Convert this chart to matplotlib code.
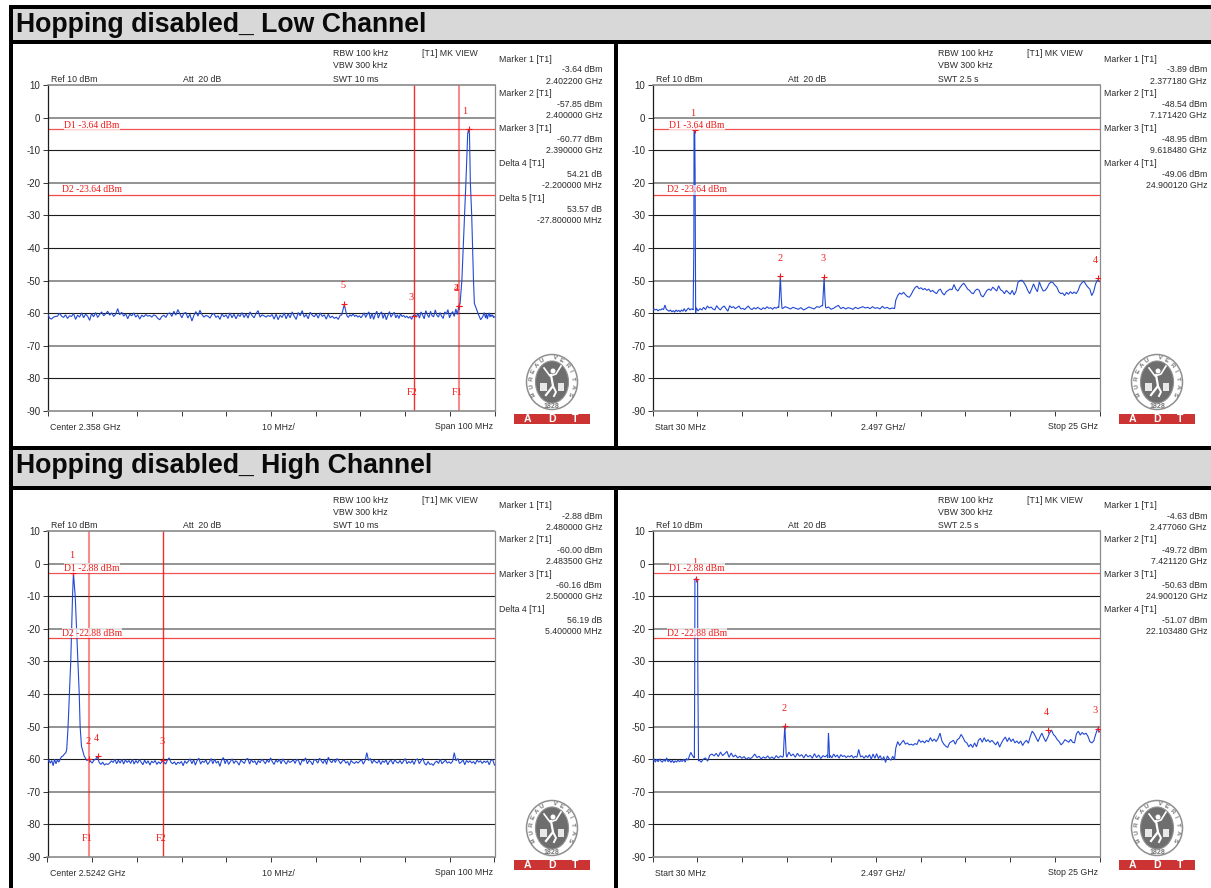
import numpy as np
import matplotlib
matplotlib.use("Agg")
import matplotlib.pyplot as plt
from matplotlib.patches import Rectangle, Ellipse

W, H = 1211, 888
SANS = ["Liberation Sans", "DejaVu Sans"]
SERIF = ["Liberation Serif", "DejaVu Serif"]
BLUE = "#2349d4"
RED = "#f01a1a"

# ---------- Data: Low channel, band edge (GHz, dBm) ----------
LOW_A = [-60.0,-61.5,-61.8,-61.2,-61.0,-60.9,-60.0,-60.9,-61.3,-60.5,-61.6,-60.8,-61.0,-60.1,-61.9,-60.6,-61.2,-59.9,-61.4,-60.3,
 -60.9,-62.2,-60.1,-61.1,-59.8,-61.3,-60.4,-59.6,-60.8,-60.2,-59.4,-60.6,-59.9,-61.0,-60.3,-58.6,-60.5,-59.7,-60.9,-60.2,
 -61.7,-60.3,-60.8,-59.9,-61.2,-60.5,-61.8,-60.6,-61.1,-60.4,-60.9,-60.7,-61.2,-60.5,-60.8,-61.6,-62.0,-61.0,-60.6,-61.3,
 -60.2,-59.9,-61.0,-59.4,-60.6,-58.9,-60.2,-61.4,-60.0,-59.8,-61.5,-60.3,-62.4,-60.7,-59.5,-60.9,-59.1,-60.4,-61.2,-60.7,
 -60.9,-61.5,-60.4,-60.1,-61.3,-60.8,-61.9,-60.2,-61.1,-60.5,-61.6,-59.9,-61.4,-60.3,-61.7,-60.4,-61.0,-59.8,-61.3,-60.2,
 -61.5,-59.6,-60.7,-61.4,-60.1,-59.2,-61.2,-60.5,-60.8,-61.2,-60.7,-61.0,-60.4,-61.8,-60.3,-62.0,-60.6,-61.3,-59.9,-61.7,
 -60.2,-61.4,-59.6,-60.9,-61.9,-59.8,-60.8,-59.2,-61.2,-60.4,-61.7,-59.7,-60.6,-61.1,-60.2,-61.5,-59.9,-61.0,-60.5,-61.8,
 -60.3,-61.4,-60.9,-61.6,-61.2,-61.9,-60.6]
LOW_SPIKE_F = [2.3738, 2.3741, 2.3744, 2.3747, 2.3750]
LOW_SPIKE_V = [-60.6, -59.0, -57.3, -59.2, -60.8]
LOW_B = [-61.3,-60.5,-60.9,-60.2,-61.0,-60.6,-61.2,-60.8,-61.4,-60.7,-59.9,-61.3,-60.3,-59.6,-61.7,-60.0,-61.9,-60.4,-59.4,-61.5,
 -60.2,-59.6,-61.6,-60.1,-62.0,-60.7,-59.5,-61.2,-60.4,-59.7,-61.4,-60.5,-61.6,-60.2,-61.0,-60.7,-61.3,-60.9,-61.5,-61.0,
 -61.9,-60.8,-60.4,-61.2,-60.0,-61.5,-59.6,-60.6,-61.7,-59.2,-60.5,-61.3,-59.4,-60.8,-61.1,-59.0,-60.6,-61.2,-59.8,-60.9,
 -61.6,-59.6,-60.3,-58.9,-61.4,-60.2,-59.5,-61.0,-58.7,-60.4]
LOW_PEAK_F = [2.4000,2.4003,2.4007,2.4010,2.4016,2.4020,2.4022,2.4024,2.4026,2.4029,2.4031,2.4033,2.4035,2.4043,2.4049,2.4054,2.4057]
LOW_PEAK_V = [-57.85,-57,-50,-40,-20,-5,-3.64,-5,-20,-30,-40,-50,-57,-60,-62,-61.0,-59.8]
LOW_TAIL = [-61.5,-60.2,-61.8,-60.6,-59.9,-61.2,-60.4,-61.0,-60.5,-61.4,-61.1]

# ---------- Data: Low channel, 30 MHz - 25 GHz ----------
WL_A = [-59.2,-58.7,-59.0,-58.8,-59.3,-58.9,-59.0,-58.6,-58.9,-57.5,-58.8,-59.1,-59.4,-59.0,-59.6,-59.2,-59.7,-59.0,-59.5,-59.1,
 -59.6,-59.0,-59.4,-58.6,-59.5,-58.9,-58.4,-59.0,-58.7,-58.8]
WL_SPIKE1_F = [2.30, 2.34, 2.35, 2.377, 2.39, 2.41, 2.44]
WL_SPIKE1_V = [-59.0, -40, -4.5, -3.89, -4.5, -17, -60]
WL_B = [-58.3,-59.3,-58.6,-59.0,-58.2,-58.9,-57.8,-58.4,-58.1,-58.7,-59.0,-57.7,-58.5,-59.0,-58.2,-57.8,-58.6,-59.4,-57.7,-58.3,
 -58.0,-58.6,-58.2,-57.8,-58.7,-58.5,-58.9,-58.3,-57.8,-58.6,-58.9,-58.3,-58.7,-58.2,-58.6,-58.9,-58.3,-58.7,-58.0,-58.5,
 -58.3,-58.8,-58.2,-58.5,-58.0]
WL_SPIKE2_F = [7.08, 7.12, 7.171, 7.22, 7.26]
WL_SPIKE2_V = [-58.3, -55, -48.54, -55, -58.4]
WL_C = [-58.6,-58.0,-58.3,-58.7,-58.2,-58.5,-58.8,-58.3,-59.0,-58.6,-58.1,-58.4,-58.7,-58.0,-58.2,-57.6]
WL_SPIKE3_F = [9.53, 9.57, 9.618, 9.66, 9.70]
WL_SPIKE3_V = [-57.8, -54, -48.95, -55, -58.2]
WL_D = [-58.4,-58.1,-58.8,-58.5,-58.0,-57.6,-58.6,-58.2,-58.7,-58.3,-58.5,-58.8,-58.2,-58.6,-58.3,-58.0,-58.4,-58.2,-58.6,-58.0,
 -58.5,-58.3,-58.7,-57.9,-58.5,-58.2,-58.7,-58.4,-58.6]
WL_E = [-56.0,-54.6,-53.8,-54.2,-53.6,-54.3,-54.9,-55.1,-54.2,-53.0,-52.1,-51.7,-52.5,-52.2,-52.8,-52.4,-53.0,-52.6,-53.4,-53.0,
 -53.6,-54.0,-53.0,-52.6,-53.8,-54.4,-53.4,-53.0,-52.6,-52.8,-51.2,-52.6,-53.2,-52.2,-51.4,-50.8,-51.6,-52.6,-53.0,-53.8,
 -54.0,-53.0,-52.6,-53.0,-54.6,-55.0,-54.0,-53.0,-52.6,-53.0,-52.0,-52.6,-53.2,-51.6,-52.8,-53.2,-54.0,-53.0,-53.6,-54.2,
 -53.0,-54.4,-53.2,-50.5,-50.0,-49.9,-50.6,-51.6,-53.0,-54.0,-52.6,-51.0,-52.4,-53.4,-50.4,-52.0,-53.2,-53.0,-52.2,-51.0,
 -50.4,-50.6,-51.4,-52.0,-53.4,-54.0,-53.8,-54.6,-53.6,-54.2,-53.4,-54.0,-53.5,-54.0,-53.0,-51.4,-50.6,-50.2,-51.2,-52.0,
 -52.6,-54.6,-53.4,-51.0,-49.8,-50.3]

# ---------- Data: High channel, band edge ----------
HIGH_L = [-60.8,-60.2,-61.2,-60.4,-62.0,-60.0,-61.4,-60.2,-60.9,-60.0,-59.2,-59.0,-58.4,-58.0]
HIGH_PEAK_F = [2.4785,2.4788,2.4791,2.4794,2.4796,2.4798,2.4800,2.4804,2.4807,2.4810,2.4813,2.4815,2.4818,2.4824,2.4830,2.4835]
HIGH_PEAK_V = [-57,-50,-40,-30,-20,-10,-2.88,-10,-20,-30,-40,-50,-56,-59,-60.4,-60.0]
HIGH_R = [-60.6,-61.2,-60.3,-60.0,-59.1,-61.0,-61.6,-60.9,-61.8,-61.4,-61.6,-61.2,-60.5,-61.0,-60.0,-61.4,-60.3,-61.2,-60.0,-61.5,
 -60.2,-61.0,-60.4,-61.3,-60.0,-61.5,-60.4,-61.2,-60.1,-60.9,-61.7,-60.3,-61.3,-60.5,-61.8,-60.6,-61.1,-60.4,-61.6,-60.8,
 -61.4,-60.6,-60.9,-61.5,-60.3,-59.6,-60.9,-61.4,-60.8,-61.7,-60.9,-61.3,-60.7,-62.0,-60.5,-61.3,-60.6,-59.9,-61.4,-60.2,
 -61.8,-60.4,-59.7,-61.5,-60.6,-61.0,-60.2,-61.6,-60.9,-59.8,-61.4,-60.0,-61.2,-60.6,-62.2,-60.3,-59.5,-61.4,-60.0,-61.6,
 -60.7,-59.9,-61.3,-60.5,-60.9,-61.8,-60.3,-60.8,-61.3,-60.0,-59.8,-61.5,-60.1,-61.0,-60.5,-61.7,-60.4,-61.1,-60.0,-60.6,
 -61.4,-60.2,-61.0,-59.6,-60.8,-61.6,-60.3,-60.9,-60.0,-61.4,-59.9,-60.8,-61.5,-60.4,-61.0,-60.7,-60.2,-61.3,-60.0,-60.5,
 -61.8,-60.3,-60.6,-59.6,-61.4,-60.4,-60.8,-61.7,-60.0,-60.4,-61.2,-59.7,-60.5,-61.3,-60.0,-61.6,-59.4,-60.5,-61.1,-60.0,
 -61.0,-59.8,-60.5,-61.4,-60.6,-60.2,-61.2,-60.7,-61.9,-60.4,-61.0,-61.3,-60.7,-61.2,-60.6,-60.2,-61.5,-60.5,-58.0,-60.4,
 -59.8,-61.3,-60.3,-60.8,-61.2,-60.3,-61.6,-60.5,-61.0,-60.2,-61.7,-60.6,-60.4,-61.5,-60.1,-60.9,-61.2,-60.4,-61.4,-60.6,
 -59.8,-61.4,-60.7,-61.2,-60.4,-61.6,-60.2,-59.9,-61.4,-60.5,-59.7,-61.3,-61.8,-60.7,-61.6,-61.4,-61.9,-61.0,-60.6,-61.3,
 -60.0,-61.4,-60.8,-60.3,-61.2,-60.8,-61.3,-60.7,-58.0,-60.5,-59.8,-61.3,-60.9,-60.2,-61.7,-60.4,-61.0,-60.5,-61.2,-60.7,
 -61.5,-60.3,-60.9,-60.5,-61.3,-60.6,-61.0,-60.5,-61.7,-60.3,-60.2,-61.8]

# ---------- Data: High channel, 30 MHz - 25 GHz ----------
WH_A = [-60.6,-59.8,-60.9,-60.0,-60.8,-59.9,-60.6,-60.9,-60.0,-60.7,-59.6,-60.8,-60.2,-61.0,-60.3,-61.1,-60.5,-60.9,-60.2,-60.8,
 -60.4,-60.7,-60.0,-60.9,-59.8,-60.3,-59.0,-57.9,-58.8,-59.4]
WH_SPIKE1_F = [2.37, 2.39, 2.40, 2.477, 2.55, 2.56, 2.60]
WH_SPIKE1_V = [-59.6, -30, -4.8, -4.63, -5.0, -32, -60.6]
WH_B = [-60.2,-60.9,-60.0,-59.6,-60.6,-58.8,-58.4,-59.0,-58.2,-59.2,-57.8,-58.9,-58.3,-57.6,-59.4,-58.1,-59.3,-58.7,-59.6,-59.1,
 -59.7,-59.2,-60.0,-59.5,-59.8,-59.3,-58.4,-59.5,-59.1,-59.9,-59.3,-59.7,-59.0,-59.8,-59.3,-59.9,-58.9,-59.6,-59.0,-59.4]
WH_SPIKE2_F = [7.34, 7.38, 7.421, 7.46, 7.50]
WH_SPIKE2_V = [-59.0, -54, -49.72, -54, -58.6]
WH_C = [-59.4,-57.8,-59.0,-58.4,-59.4,-58.2,-59.1,-58.6,-59.6,-58.5,-59.3,-58.8,-59.7,-58.3,-59.5,-58.7,-59.8,-58.9,-59.3,-58.7]
WH_SPIKE3_F = [9.82, 9.84, 9.86, 9.89, 9.92]
WH_SPIKE3_V = [-59.6, -55, -52.0, -55, -59.5]
WH_D = [-58.8,-59.6,-58.4,-59.3,-58.7,-59.7,-58.6,-59.2,-58.9,-59.5,-59.0,-59.3,-58.8,-59.6,-59.1,-59.4,-57.0,-59.3,-59.0,-59.7,
 -58.9,-59.5,-58.6,-60.0,-58.4,-59.7,-58.3,-59.8,-58.9,-60.3,-59.2,-61.0,-59.0,-59.9,-60.3,-59.1,-60.2]
WH_E = [-56.6,-54.6,-55.8,-54.9,-54.2,-55.4,-55.0,-55.6,-55.4,-55.7,-55.2,-55.5,-54.0,-54.8,-54.4,-55.0,-54.2,-54.7,-53.4,-54.5,
 -53.8,-54.6,-53.6,-52.0,-54.4,-55.4,-56.0,-56.4,-55.0,-54.6,-54.2,-55.4,-54.0,-53.6,-52.4,-53.4,-54.6,-55.0,-56.2,-55.4,
 -56.4,-55.0,-56.2,-54.2,-53.6,-54.8,-53.4,-54.6,-54.0,-54.8,-54.2,-54.9,-55.6,-54.6,-56.3,-55.0,-54.0,-53.2,-54.6,-53.4,
 -54.6,-53.8,-55.0,-54.4,-55.2,-54.4,-55.8,-54.8,-54.2,-55.1,-53.0,-51.4,-52.2,-53.4,-54.6,-53.2,-52.0,-53.4,-54.6,-53.4,
 -52.0,-51.07,-52.4,-53.0,-54.0,-54.6,-55.6,-55.0,-54.0,-54.4,-54.8,-53.9,-54.8,-55.0,-52.2,-51.4,-52.6,-51.8,-52.4,-52.0,
 -53.0,-54.6,-55.0,-54.4,-52.4,-50.63,-51.6]

RBW = ["RBW 100 kHz", "VBW 300 kHz"]
PANELS = [
    dict(xlim=(2.308, 2.408), swt="SWT 10 ms", bl="Center 2.358 GHz", bc="10 MHz/", br="Span 100 MHz",
         d1=-3.64, d2=-23.64, d1t="D1 -3.64 dBm", d2t="D2 -23.64 dBm",
         vlines=[(2.39, "F2"), (2.40, "F1")],
         mf=[2.4022, 2.4000, 2.3900, 2.4000, 2.3744], mv=[-3.64, -57.85, -60.77, -57.85, -57.21],
         ml=["1", "2", "3", "4", "5"], mxy=[(465, 111), (456, 288), (411, 297), (456, 288), (343, 285)],
         rows=[("Marker 1 [T1]", "-3.64 dBm", "2.402200 GHz"), ("Marker 2 [T1]", "-57.85 dBm", "2.400000 GHz"),
               ("Marker 3 [T1]", "-60.77 dBm", "2.390000 GHz"), ("Delta 4 [T1]", "54.21 dB", "-2.200000 MHz"),
               ("Delta 5 [T1]", "53.57 dB", "-27.800000 MHz")]),
    dict(xlim=(0.03, 25.0), swt="SWT 2.5 s", bl="Start 30 MHz", bc="2.497 GHz/", br="Stop 25 GHz",
         d1=-3.64, d2=-23.64, d1t="D1 -3.64 dBm", d2t="D2 -23.64 dBm", vlines=[],
         mf=[2.37718, 7.17142, 9.61848, 24.90012], mv=[-3.89, -48.54, -48.95, -49.06],
         ml=["1", "2", "3", "4"], mxy=[(693, 113), (780, 258), (823, 258), (1095, 260)],
         rows=[("Marker 1 [T1]", "-3.89 dBm", "2.377180 GHz"), ("Marker 2 [T1]", "-48.54 dBm", "7.171420 GHz"),
               ("Marker 3 [T1]", "-48.95 dBm", "9.618480 GHz"), ("Marker 4 [T1]", "-49.06 dBm", "24.900120 GHz")]),
    dict(xlim=(2.4742, 2.5742), swt="SWT 10 ms", bl="Center 2.5242 GHz", bc="10 MHz/", br="Span 100 MHz",
         d1=-2.88, d2=-22.88, d1t="D1 -2.88 dBm", d2t="D2 -22.88 dBm",
         vlines=[(2.4835, "F1"), (2.50, "F2")],
         mf=[2.4800, 2.4835, 2.5000, 2.4854], mv=[-2.88, -60.00, -60.16, -59.07],
         ml=["1", "2", "3", "4"], mxy=[(72, 555), (88, 741), (162, 741), (96, 738)],
         rows=[("Marker 1 [T1]", "-2.88 dBm", "2.480000 GHz"), ("Marker 2 [T1]", "-60.00 dBm", "2.483500 GHz"),
               ("Marker 3 [T1]", "-60.16 dBm", "2.500000 GHz"), ("Delta 4 [T1]", "56.19 dB", "5.400000 MHz")]),
    dict(xlim=(0.03, 25.0), swt="SWT 2.5 s", bl="Start 30 MHz", bc="2.497 GHz/", br="Stop 25 GHz",
         d1=-2.88, d2=-22.88, d1t="D1 -2.88 dBm", d2t="D2 -22.88 dBm", vlines=[],
         mf=[2.47706, 7.42112, 24.90012, 22.10348], mv=[-4.63, -49.72, -50.63, -51.07],
         ml=["1", "2", "3", "4"], mxy=[(695, 562), (784, 708), (1095, 710), (1046, 712)],
         rows=[("Marker 1 [T1]", "-4.63 dBm", "2.477060 GHz"), ("Marker 2 [T1]", "-49.72 dBm", "7.421120 GHz"),
               ("Marker 3 [T1]", "-50.63 dBm", "24.900120 GHz"), ("Marker 4 [T1]", "-51.07 dBm", "22.103480 GHz")]),
]
HEADERS = ["Hopping disabled_ Low Channel", "Hopping disabled_ High Channel"]
Y_TICKS = [10, 0, -10, -20, -30, -40, -50, -60, -70, -80, -90]
BLACK_GRID = [-10, -30, -40, -60, -80]
GREY_GRID = [0, -20, -50, -70]


def seg(a, b, vals):
    return np.linspace(a, b, len(vals)), np.array(vals, dtype=float)


def join(*parts):
    xs, ys = [], []
    for x, y in parts:
        xs.append(np.asarray(x, dtype=float))
        ys.append(np.asarray(y, dtype=float))
    return np.concatenate(xs), np.concatenate(ys)


TRACES = [
    join(seg(2.308, 2.3735, LOW_A), (LOW_SPIKE_F, LOW_SPIKE_V), seg(2.3753, 2.3997, LOW_B),
         (LOW_PEAK_F, LOW_PEAK_V), seg(2.4060, 2.408, LOW_TAIL)),
    join(seg(0.03, 2.27, WL_A), (WL_SPIKE1_F, WL_SPIKE1_V), seg(2.47, 7.05, WL_B), (WL_SPIKE2_F, WL_SPIKE2_V),
         seg(7.29, 9.50, WL_C), (WL_SPIKE3_F, WL_SPIKE3_V), seg(9.73, 13.55, WL_D), seg(13.62, 25.0, WL_E)),
    join(seg(2.4742, 2.4783, HIGH_L), (HIGH_PEAK_F, HIGH_PEAK_V), seg(2.4838, 2.5742, HIGH_R)),
    join(seg(0.03, 2.33, WH_A), (WH_SPIKE1_F, WH_SPIKE1_V), seg(2.63, 7.30, WH_B), (WH_SPIKE2_F, WH_SPIKE2_V),
         seg(7.53, 9.79, WH_C), (WH_SPIKE3_F, WH_SPIKE3_V), seg(9.95, 13.55, WH_D), seg(13.62, 25.0, WH_E)),
]

fig = plt.figure(figsize=(W / 100, H / 100), dpi=100, facecolor="white")


def pixel_axes(z):
    a = fig.add_axes([0, 0, 1, 1], zorder=z)
    a.set_xlim(0, W)
    a.set_ylim(H, 0)
    a.axis("off")
    a.patch.set_alpha(0)
    return a


bg = pixel_axes(0)
fg = pixel_axes(5)

# Frame
for x, y, w, h, c in [(9, 5, W - 9, 4, "black"), (9, 5, 4, H - 5, "black"),
                      (13, 9, W - 13, 31, "#d8d8d8"), (13, 40, W - 13, 4, "black"),
                      (614, 44, 4, 402, "black"), (13, 446, W - 13, 4, "black"),
                      (13, 450, W - 13, 36, "#d8d8d8"), (13, 486, W - 13, 4, "black"),
                      (614, 490, 4, H - 490, "black")]:
    bg.add_patch(Rectangle((x, y), w, h, fc=c, ec="none"))
for txt, y in zip(HEADERS, [25, 466]):
    bg.text(16, y, txt, family=SANS, weight="bold", fontsize=19.2, color="#0a0a0a", va="center", ha="left")


def draw_logo(cx, cy):
    c = "#6e6e6e"
    bg.add_patch(Ellipse((cx, cy), 51, 55, fc="white", ec="#8f8f8f", lw=1.1))
    bg.add_patch(Ellipse((cx, cy), 33, 42, fc=c, ec="#8f8f8f", lw=0.8))
    letters = "BUREAU VERITAS"
    angs = np.linspace(-118, 118, len(letters))
    for ch, a in zip(letters, angs):
        r = np.deg2rad(a)
        bg.text(cx + 21 * np.sin(r), cy - 24 * np.cos(r), ch, fontsize=4.6, family=SANS,
                weight="bold", color="#777777", ha="center", va="center", rotation=-a)
    bg.text(cx, cy + 24, "1828", fontsize=5.0, family=SANS, weight="bold", color="#777777", ha="center", va="center")
    bg.plot([cx - 8, cx - 2, cx + 4, cx + 9], [cy - 14, cy - 6, cy - 8, cy - 16], color="white", lw=1.2)
    bg.plot([cx - 1, cx + 1, cx - 6], [cy - 7, cy + 4, cy + 13], color="white", lw=1.6)
    bg.plot([cx + 1, cx + 4, cx + 2], [cy + 4, cy + 10, cy + 14], color="white", lw=1.4)
    bg.add_patch(Ellipse((cx + 1, cy - 11), 5, 5, fc="white", ec="none"))
    bg.add_patch(Rectangle((cx - 12, cy + 1), 7, 8, fc="white", ec="none", alpha=0.85))
    bg.add_patch(Rectangle((cx + 6, cy + 1), 6, 8, fc="white", ec="none", alpha=0.85))
    bg.add_patch(Rectangle((cx - 38, cy + 32), 76, 10, fc="#cc3434", ec="none"))
    for ch, dx in zip("ADT", (-24, 0, 23)):
        bg.text(cx + dx, cy + 37, ch, color="white", weight="bold", fontsize=7.6, family=SANS, ha="center", va="center")


LAYOUT = [(0, 0), (605, 0), (0, 446), (605, 446)]
TXT = "#2b2b2b"
FS = 6.35
SFS = 7.3
for p, (dx, dy), (tx, ty) in zip(PANELS, LAYOUT, TRACES):
    x0, x1 = 47.5 + dx, 494.5 + dx
    y0, y1 = 85 + dy, 411 + dy
    ax = fig.add_axes([x0 / W, 1 - y1 / H, (x1 - x0) / W, (y1 - y0) / H], zorder=2)
    ax.patch.set_alpha(0)
    ax.set_xlim(*p["xlim"])
    ax.set_ylim(-90, 10)
    for lv in GREY_GRID:
        ax.axhline(lv, color="#8a8a8a", lw=1.3, zorder=1)
    for lv in BLACK_GRID:
        ax.axhline(lv, color="#1c1c1c", lw=0.8, zorder=1)
    ax.axhline(p["d1"], color=RED, lw=0.9, alpha=0.75, zorder=2)
    ax.axhline(p["d2"], color=RED, lw=0.9, alpha=0.8, zorder=2)
    for f, lab in p["vlines"]:
        ax.axvline(f, color=RED, lw=1.5 if lab == "F1" else 1.0, alpha=0.5 if lab == "F1" else 0.9, zorder=2)
        fg.text(x0 + (f - p["xlim"][0]) / (p["xlim"][1] - p["xlim"][0]) * (x1 - x0) - 2, 392 + dy, lab,
                color=RED, family=SERIF, fontsize=SFS, ha="center", va="center")
    ax.plot(tx, ty, color=BLUE, lw=0.8, zorder=3, solid_joinstyle="miter")
    ax.plot(p["mf"], p["mv"], ls="none", marker="+", ms=4.6, mew=0.8, color=RED, zorder=4)
    for lab, (mx, my) in zip(p["ml"], p["mxy"]):
        fg.text(mx, my, lab, color=RED, family=SERIF, fontsize=SFS, ha="center", va="center")
    ax.set_yticks(Y_TICKS)
    ax.set_yticklabels([str(v) for v in Y_TICKS], family=SANS, fontsize=7.0, color=TXT)
    ax.set_xticks(np.linspace(p["xlim"][0], p["xlim"][1], 11))
    ax.set_xticklabels([])
    ax.tick_params(axis="y", length=3.6, width=0.7, color="#333333", pad=1.5)
    ax.tick_params(axis="x", length=3.6, width=0.7, color="#333333", direction="out")
    for s, col, lw in (("left", "#1c1c1c", 0.9), ("right", "#8a8a8a", 0.9), ("top", "#8a8a8a", 1.2), ("bottom", "#8a8a8a", 1.2)):
        ax.spines[s].set_color(col)
        ax.spines[s].set_linewidth(lw)

    # D-line labels
    lx = 64 + dx
    fg.text(lx, (125 if p["d1"] == -3.64 else 122) + dy, p["d1t"], color=RED, family=SERIF, fontsize=6.9, va="center",
            bbox=dict(fc="white", ec="none", pad=0.2, alpha=0.75))
    fg.text(lx - 2, (190 if p["d1"] == -3.64 else 187) + dy, p["d2t"], color=RED, family=SERIF, fontsize=6.9, va="center",
            bbox=dict(fc="white", ec="none", pad=0.2, alpha=0.75))

    # Setting texts
    kw = dict(family=SANS, fontsize=FS, color=TXT, va="center", ha="left")
    fg.text(333 + dx, 54 + dy, RBW[0], **kw)
    fg.text(333 + dx, 66 + dy, RBW[1], **kw)
    fg.text(333 + dx, 79 + dy, p["swt"], **kw)
    fg.text(422 + dx, 54 + dy, "[T1] MK VIEW", **kw)
    fg.text(51 + dx, 79 + dy, "Ref 10 dBm", **kw)
    fg.text(183 + dx, 79 + dy, "Att  20 dB", **kw)
    fg.text(50 + dx, 427 + dy, p["bl"], **kw)
    fg.text(278 + dx, 427 + dy, p["bc"], **{**kw, "ha": "center"})
    fg.text(493 + dx, 426 + dy, p["br"], **{**kw, "ha": "right"})

    # Marker readouts
    for i, (a, b, c) in enumerate(p["rows"]):
        yy = 59 + dy + i * 34.8
        fg.text(499 + dx, yy, a, **kw)
        fg.text(602 + dx, yy + 11, b, **{**kw, "ha": "right"})
        fg.text(602 + dx, yy + 22, c, **{**kw, "ha": "right"})

    draw_logo(552 + dx, 382 + dy)

fig.savefig("out.png", dpi=100, facecolor="white")
